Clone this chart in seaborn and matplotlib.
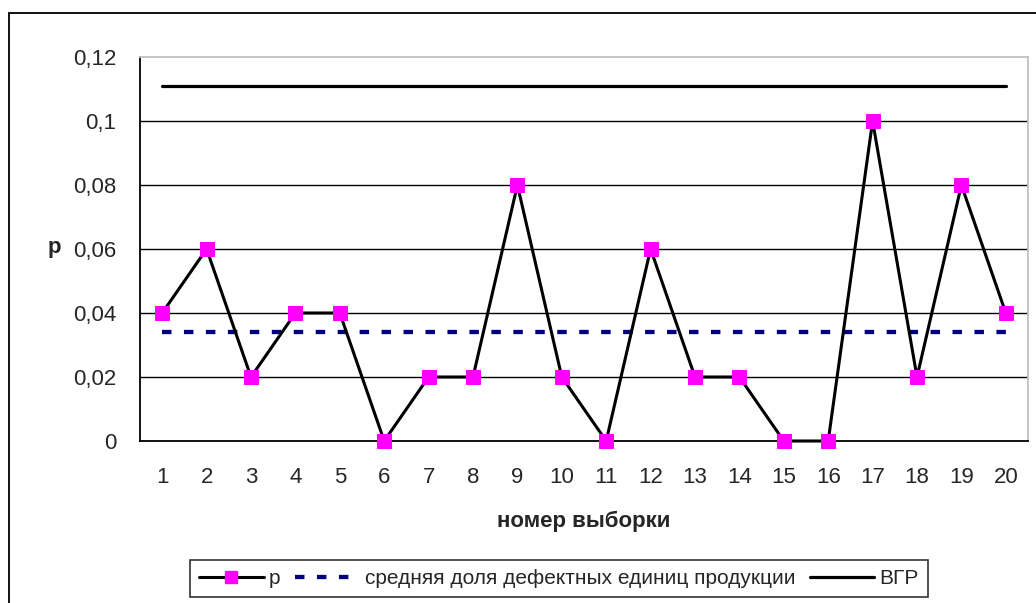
import matplotlib
matplotlib.use("Agg")
import matplotlib.pyplot as plt
import seaborn as sns
import pandas as pd
from matplotlib.ticker import FixedLocator
from matplotlib.lines import Line2D

samples = list(range(1, 21))
p_values = [0.04, 0.06, 0.02, 0.04, 0.04, 0.0, 0.02, 0.02, 0.08, 0.02,
            0.0, 0.06, 0.02, 0.02, 0.0, 0.0, 0.10, 0.02, 0.08, 0.04]
p_mean = 0.034
vgr = 0.111
y_ticks = [0, 0.02, 0.04, 0.06, 0.08, 0.1, 0.12]
y_labels = ["0", "0,02", "0,04", "0,06", "0,08", "0,1", "0,12"]
label_p = "p"
label_mean = "средняя доля дефектных единиц продукции"
label_vgr = "ВГР"
xlabel = "номер выборки"
ylabel = "p"

sns.set_style("white")
plt.rcParams["font.family"] = ["Liberation Sans", "DejaVu Sans"]

FS = 16
DASH = (0, (2.2, 2.9))

fig = plt.figure(figsize=(10.36, 6.03), dpi=100)
ax = fig.add_axes([140 / 1036, 1 - 441 / 603, (1028 - 140) / 1036, (441 - 57) / 603])

pos = list(range(len(samples)))
df = pd.DataFrame({"pos": pos, "p": p_values,
                   "mean": [p_mean] * len(samples), "vgr": [vgr] * len(samples)})

for yv in y_ticks[1:-1]:
    ax.axhline(yv, color="black", lw=1.0, zorder=1)

sns.lineplot(data=df, x="pos", y="vgr", ax=ax, color="black", lw=2.3, zorder=2)
sns.lineplot(data=df, x="pos", y="mean", ax=ax, color="#000080", lw=3.1,
             linestyle=DASH, zorder=2)
sns.lineplot(data=df, x="pos", y="p", ax=ax, color="black", lw=2.2, marker="s",
             markersize=10.5, markerfacecolor="#FF00FF", markeredgecolor="#FF00FF",
             zorder=3, clip_on=False)

ax.set_xlim(-0.5, len(samples) - 0.5)
ax.set_ylim(0, 0.12)
ax.set_yticks(y_ticks)
ax.set_yticklabels(y_labels)
ax.set_xticks(pos)
ax.set_xticklabels([str(s) for s in samples])
ax.xaxis.set_minor_locator(FixedLocator([i - 0.5 for i in range(len(samples) + 1)]))
ax.tick_params(axis="x", which="major", length=0, labelsize=FS, pad=18.5)
ax.tick_params(axis="x", which="minor", length=7, width=1.2, direction="out", color="black")
ax.tick_params(axis="y", which="major", length=7, width=1.2, direction="out",
               color="black", labelsize=FS, pad=10)

ax.set_xlabel(xlabel, fontsize=FS, fontweight="bold")
ax.xaxis.label.set_va("center")
ax.xaxis.set_label_coords(0.5, (441 - 521) / 384)
ax.set_ylabel(ylabel, fontsize=FS, fontweight="bold", rotation=0)
ax.yaxis.label.set_va("center")
ax.yaxis.label.set_ha("center")
ax.yaxis.set_label_coords((54 - 140) / 888, (441 - 247) / 384)

for s in ["left", "bottom"]:
    ax.spines[s].set_color("black")
    ax.spines[s].set_linewidth(1.3)
for s in ["top", "right"]:
    ax.spines[s].set_visible(True)
    ax.spines[s].set_color("#c0c0c0")
    ax.spines[s].set_linewidth(1.3)

handles = [
    Line2D([], [], color="black", lw=2.2, marker="s", markersize=9,
           markerfacecolor="#FF00FF", markeredgecolor="#FF00FF"),
    Line2D([], [], color="#000080", lw=3.1, linestyle=DASH),
    Line2D([], [], color="black", lw=2.3),
]
leg = fig.legend(handles, [label_p, label_mean, label_vgr], ncol=3,
                 loc="center", bbox_to_anchor=(559 / 1036, 1 - 578.5 / 603),
                 fontsize=15, frameon=True, fancybox=False, handlelength=3.1,
                 columnspacing=0.7, handletextpad=0.25, borderpad=0.45)
leg.get_frame().set_edgecolor("black")
leg.get_frame().set_linewidth(1.2)

# outer chart border (top and left visible)
fig.add_artist(Line2D([9 / 1036, 1.0], [1 - 13 / 603, 1 - 13 / 603],
                      transform=fig.transFigure, color="black", lw=1.3))
fig.add_artist(Line2D([9 / 1036, 9 / 1036], [0, 1 - 13 / 603],
                      transform=fig.transFigure, color="black", lw=1.3))

fig.savefig("out.png", dpi=100)
